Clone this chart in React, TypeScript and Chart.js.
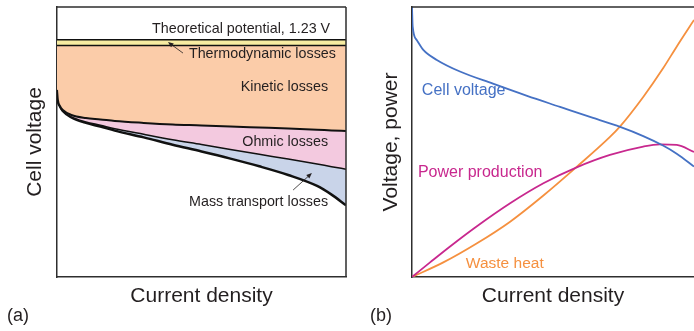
import React, { useEffect, useRef } from 'react';
import { Chart, registerables } from 'chart.js';

Chart.register(...registerables);

// ---------- Panel (a): polarization curve and its losses ----------
const currentA = [0, 0.003, 0.01, 0.02, 0.05, 0.1, 0.15, 0.2, 0.3, 0.4, 0.5, 0.6, 0.7, 0.8, 0.9, 0.95, 1.0];
const kineticV = [0.970, 0.918, 0.887, 0.866, 0.840, 0.824, 0.817, 0.809, 0.799, 0.791, 0.786, 0.780, 0.775, 0.770, 0.764, 0.760, 0.757];
const ohmicV = [0.970, 0.917, 0.885, 0.862, 0.830, 0.804, 0.787, 0.769, 0.740, 0.712, 0.687, 0.661, 0.636, 0.612, 0.586, 0.572, 0.559];
const massV = [0.970, 0.917, 0.885, 0.861, 0.828, 0.799, 0.780, 0.759, 0.724, 0.686, 0.651, 0.614, 0.574, 0.529, 0.472, 0.427, 0.372];
const levelX = [0, 1];
const theoreticalV = [1.23, 1.23];
const thermodynamicV = [1.2, 1.2];

// ---------- Panel (b): voltage, power and heat ----------
const cellX = [0, 0.0025, 0.0167, 0.040, 0.088, 0.170, 0.287, 0.408, 0.525, 0.642, 0.738, 0.820, 0.890, 0.940, 1.0];
const cellV = [1.0, 0.927, 0.878, 0.841, 0.804, 0.761, 0.716, 0.671, 0.630, 0.589, 0.556, 0.522, 0.487, 0.456, 0.409];
const powerX = [0, 0.064, 0.135, 0.229, 0.348, 0.466, 0.584, 0.702, 0.820, 0.879, 0.939, 1.0];
const powerV = [0, 0.054, 0.113, 0.187, 0.273, 0.347, 0.406, 0.452, 0.483, 0.491, 0.489, 0.463];
const heatX = [0, 0.111, 0.229, 0.348, 0.466, 0.584, 0.702, 0.738, 0.820, 0.891, 0.939, 1.0];
const heatV = [0, 0.054, 0.124, 0.205, 0.302, 0.408, 0.519, 0.558, 0.667, 0.774, 0.854, 0.952];

const FONT = "'Liberation Sans', Arial, Helvetica, sans-serif";
const INK = '#231f20';
const FRAME = '#2e2e2e';
const BLUE = '#4571c4';
const MAGENTA = '#c8288e';
const ORANGE = '#f5903f';

type Note = { text: string; x: number; y: number; align: CanvasTextAlign; color: string; size: number };
type Arrow = { x1: number; y1: number; x2: number; y2: number };

const notesA: Note[] = [
  { text: 'Theoretical potential, 1.23 V', x: 0.945, y: 1.286, align: 'right', color: INK, size: 14.3 },
  { text: 'Thermodynamic losses', x: 0.965, y: 1.156, align: 'right', color: INK, size: 14.3 },
  { text: 'Kinetic losses', x: 0.938, y: 0.985, align: 'right', color: INK, size: 14.3 },
  { text: 'Ohmic losses', x: 0.938, y: 0.700, align: 'right', color: INK, size: 14.3 },
  { text: 'Mass transport losses', x: 0.938, y: 0.389, align: 'right', color: INK, size: 14.3 },
];
const arrowsA: Arrow[] = [
  { x1: 0.436, y1: 1.161, x2: 0.384, y2: 1.218 },
  { x1: 0.817, y1: 0.451, x2: 0.882, y2: 0.539 },
];
const notesB: Note[] = [
  { text: 'Cell voltage', x: 0.035, y: 0.689, align: 'left', color: BLUE, size: 16 },
  { text: 'Power production', x: 0.021, y: 0.385, align: 'left', color: MAGENTA, size: 16 },
  { text: 'Waste heat', x: 0.191, y: 0.048, align: 'left', color: ORANGE, size: 15.5 },
];

const pts = (xs: number[], ys: number[]) => xs.map((x, i) => ({ x, y: ys[i] }));

function makeNotesPlugin(notes: Note[], arrows: Arrow[], sides: string[]) {
  return {
    id: 'notes',
    afterDatasetsDraw(chart: any) {
      const { ctx, chartArea: a, scales } = chart;
      const xs = scales.x;
      const ys = scales.y;
      ctx.save();
      ctx.strokeStyle = FRAME;
      ctx.lineWidth = 1.5;
      ctx.beginPath();
      if (sides.includes('top')) {
        ctx.moveTo(a.left, a.top);
        ctx.lineTo(a.right, a.top);
      }
      if (sides.includes('right')) {
        ctx.moveTo(a.right, a.top);
        ctx.lineTo(a.right, a.bottom);
      }
      ctx.stroke();
      for (const n of notes) {
        ctx.font = `${n.size}px ${FONT}`;
        ctx.fillStyle = n.color;
        ctx.textAlign = n.align;
        ctx.textBaseline = 'middle';
        ctx.fillText(n.text, xs.getPixelForValue(n.x), ys.getPixelForValue(n.y));
      }
      for (const ar of arrows) {
        const x1 = xs.getPixelForValue(ar.x1);
        const y1 = ys.getPixelForValue(ar.y1);
        const x2 = xs.getPixelForValue(ar.x2);
        const y2 = ys.getPixelForValue(ar.y2);
        const ang = Math.atan2(y2 - y1, x2 - x1);
        ctx.strokeStyle = INK;
        ctx.fillStyle = INK;
        ctx.lineWidth = 0.8;
        ctx.beginPath();
        ctx.moveTo(x1, y1);
        ctx.lineTo(x2 - 3 * Math.cos(ang), y2 - 3 * Math.sin(ang));
        ctx.stroke();
        const L = 5.5;
        const W = 2.3;
        ctx.beginPath();
        ctx.moveTo(x2, y2);
        ctx.lineTo(x2 - L * Math.cos(ang) + W * Math.sin(ang), y2 - L * Math.sin(ang) - W * Math.cos(ang));
        ctx.lineTo(x2 - L * Math.cos(ang) - W * Math.sin(ang), y2 - L * Math.sin(ang) + W * Math.cos(ang));
        ctx.closePath();
        ctx.fill();
      }
      ctx.restore();
    },
  };
}

function baseOptions(label: string, yTitle: string, yMax: number, padLeft: number, padRight: number, yPadTop: number, yPadBottom: number) {
  return {
    responsive: false,
    animation: false as const,
    devicePixelRatio: 1,
    layout: { padding: { left: padLeft, top: 7, right: padRight, bottom: 5.8 } },
    elements: { point: { radius: 0 }, line: { cubicInterpolationMode: 'monotone' as const } },
    plugins: {
      legend: { display: false },
      tooltip: { enabled: false },
      title: {
        display: true,
        text: label,
        position: 'bottom' as const,
        align: 'start' as const,
        color: INK,
        font: { family: FONT, size: 18, lineHeight: 1, weight: 'normal' as const },
        padding: 0,
      },
    },
    scales: {
      x: {
        type: 'linear' as const,
        min: 0,
        max: 1,
        ticks: { display: false },
        grid: { display: false, drawTicks: false },
        border: { display: true, color: FRAME, width: 1.5 },
        title: {
          display: true,
          text: 'Current density',
          color: INK,
          font: { family: FONT, size: 21, lineHeight: 1 },
          padding: { top: 9.2, bottom: 0 },
        },
      },
      y: {
        type: 'linear' as const,
        min: 0,
        max: yMax,
        ticks: { display: false },
        grid: { display: false, drawTicks: false },
        border: { display: true, color: FRAME, width: 1.5 },
        title: {
          display: true,
          text: yTitle,
          color: INK,
          font: { family: FONT, size: 21, lineHeight: 1 },
          padding: { top: yPadTop, bottom: yPadBottom },
        },
      },
    },
  };
}

function buildA(): any {
  return {
    type: 'line',
    data: {
      datasets: [
        { label: 'Theoretical potential', data: pts(levelX, theoreticalV), borderColor: '#111', borderWidth: 1.5, fill: false },
        { label: 'Thermodynamic', data: pts(levelX, thermodynamicV), borderColor: '#111', borderWidth: 1.5, fill: '-1', backgroundColor: '#f7eca2' },
        { label: 'Kinetic', data: pts(currentA, kineticV), borderColor: '#111', borderWidth: 2, fill: '-1', backgroundColor: '#fbcca9' },
        { label: 'Ohmic', data: pts(currentA, ohmicV), borderColor: '#111', borderWidth: 1.5, fill: '-1', backgroundColor: '#f3c9df' },
        { label: 'Mass transport', data: pts(currentA, massV), borderColor: '#111', borderWidth: 2.5, fill: '-1', backgroundColor: '#c9d4e9' },
      ],
    },
    options: baseOptions('(a)', 'Cell voltage', 1.4, 7, 14, 18.2, 10.8),
    plugins: [makeNotesPlugin(notesA, arrowsA, ['top', 'right'])],
  };
}

function buildB(): any {
  return {
    type: 'line',
    data: {
      datasets: [
        { label: 'Cell voltage', data: pts(cellX, cellV), borderColor: BLUE, borderWidth: 1.8, fill: false },
        { label: 'Power production', data: pts(powerX, powerV), borderColor: MAGENTA, borderWidth: 1.8, fill: false },
        { label: 'Waste heat', data: pts(heatX, heatV), borderColor: ORANGE, borderWidth: 1.8, fill: false },
      ],
    },
    options: baseOptions('(b)', 'Voltage, power', 1, 10, 0, 11.2, 9.8),
    plugins: [makeNotesPlugin(notesB, [], ['top'])],
  };
}

function ChartCanvas({ left, width, height, build }: { left: number; width: number; height: number; build: () => any }) {
  const ref = useRef<HTMLCanvasElement>(null);
  useEffect(() => {
    const chart = new Chart(ref.current as HTMLCanvasElement, build());
    return () => chart.destroy();
  }, []);
  return (
    <canvas
      ref={ref}
      width={width}
      height={height}
      style={{ position: 'absolute', left, top: 0, width, height, display: 'block' }}
    />
  );
}

export default function App() {
  return (
    <div style={{ position: 'fixed', left: 0, top: 0, width: 694, height: 331, overflow: 'hidden', background: '#fff' }}>
      <ChartCanvas left={0} width={360} height={331} build={buildA} />
      <ChartCanvas left={360} width={334} height={331} build={buildB} />
    </div>
  );
}
